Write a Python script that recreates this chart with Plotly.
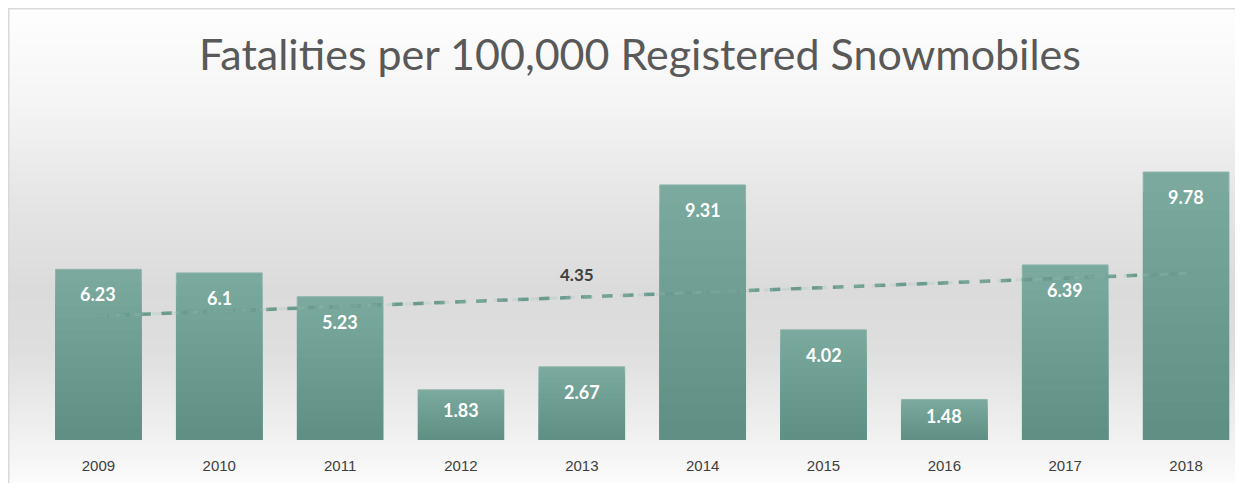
import numpy as np
import plotly.graph_objects as go

# ---- data ----
years = ["2009", "2010", "2011", "2012", "2013", "2014", "2015", "2016", "2017", "2018"]
rates = [6.23, 6.1, 5.23, 1.83, 2.67, 9.31, 4.02, 1.48, 6.39, 9.78]
extra_label_text = "4.35"
extra_label_year = "2013"
title_text = "Fatalities per 100,000 Registered Snowmobiles"

# ---- layout geometry (pixels, figure coordinates; page adds 8px body margin) ----
W, H = 1227, 475
ML, MR, MT, MB = 30, 0, 92, 43
plot_w = W - ML - MR
plot_h = H - MT - MB
YMAX = 12.41


def px_to_paper_x(px):
    return (px - ML) / plot_w


def px_to_paper_y(py):
    return (H - MB - py) / plot_h


# background vertical gradient built from horizontal strips (figure px)
stops = [(0, 254), (92, 245), (192, 229), (282, 219), (342, 222), (412, 237), (462, 248), (475, 252)]
shapes = []
step = 4
for y0 in range(0, H, step):
    y1 = min(y0 + step, H)
    ym = (y0 + y1) / 2
    g = int(round(np.interp(ym, [s[0] for s in stops], [s[1] for s in stops])))
    shapes.append(dict(
        type="rect", xref="paper", yref="paper", layer="below",
        x0=px_to_paper_x(0), x1=px_to_paper_x(W),
        y0=px_to_paper_y(y1 + 0.5), y1=px_to_paper_y(y0),
        fillcolor=f"rgb({g},{g},{g})", line=dict(width=0),
    ))
# border (left and top lines)
shapes.append(dict(type="line", xref="paper", yref="paper",
                   x0=px_to_paper_x(0.75), x1=px_to_paper_x(0.75),
                   y0=px_to_paper_y(H), y1=px_to_paper_y(0.5),
                   line=dict(color="#d9d9d9", width=1.5)))
shapes.append(dict(type="line", xref="paper", yref="paper",
                   x0=px_to_paper_x(0), x1=px_to_paper_x(W),
                   y0=px_to_paper_y(0.75), y1=px_to_paper_y(0.75),
                   line=dict(color="#d9d9d9", width=1.5)))

fig = go.Figure()

# linear trend line derived from the data (behind the bars)
xi = np.arange(len(rates))
slope, intercept = np.polyfit(xi, rates, 1)
trend = [float(slope * i + intercept) for i in xi]
fig.add_trace(go.Scatter(
    x=years, y=trend, mode="lines",
    line=dict(color="#6a9b8e", width=3.5, dash="dash"),
    hoverinfo="skip", showlegend=False,
))

# bars with a vertical light-to-dark gradient, drawn as overlaid fractions
top_rgb = np.array([123, 169, 157])
bot_rgb = np.array([94, 143, 130])
N = 14
for k in range(N):
    f = 1 - k / N
    c = bot_rgb + (top_rgb - bot_rgb) * f
    fig.add_trace(go.Bar(
        x=years, y=[v * f for v in rates], width=0.71,
        marker=dict(color=f"rgb({int(c[0])},{int(c[1])},{int(c[2])})",
                    line=dict(color="#8db5aa" if k == 0 else "rgba(0,0,0,0)", width=1 if k == 0 else 0)),
        hoverinfo="x+y" if k == 0 else "skip", showlegend=False,
    ))

# faint copy of the trend visible through the bars
fig.add_trace(go.Scatter(
    x=years, y=trend, mode="lines",
    line=dict(color="#9fc2b8", width=3, dash="dash"),
    opacity=0.25, hoverinfo="skip", showlegend=False,
))

px_per_unit = plot_h / YMAX
annotations = []
for i, (yr, v) in enumerate(zip(years, rates)):
    shift = -min(25.0, v * px_per_unit * 0.4)
    annotations.append(dict(
        x=i, y=v, xref="x", yref="y", text=f"<b>{v:g}</b>", showarrow=False,
        yanchor="middle", yshift=float(shift),
        font=dict(family="Lato", size=18, color="white"),
    ))
k = years.index(extra_label_year)
annotations.append(dict(
    x=k, y=trend[k], xref="x", yref="y",
    text=f"<b>{extra_label_text}</b>", showarrow=False, yanchor="middle", xshift=-5, yshift=23,
    font=dict(family="Lato", size=17, color="#404040"),
))

fig.update_layout(
    width=W, height=H,
    margin=dict(l=ML, r=MR, t=MT, b=MB, pad=0),
    paper_bgcolor="white",
    plot_bgcolor="rgba(0,0,0,0)",
    barmode="overlay",
    title=dict(text=title_text, x=(640 - 8) / W, xanchor="center", y=1 - 47 / H, yanchor="middle",
               font=dict(family="Lato", size=43, color="#595959")),
    xaxis=dict(type="category", range=[-0.5, 9.405], showgrid=False, zeroline=False, showline=False,
               ticks="outside", ticklen=12, tickcolor="rgba(0,0,0,0)",
               tickfont=dict(family="Liberation Sans", size=15, color="#404040")),
    yaxis=dict(range=[0, YMAX], visible=False, showgrid=False, zeroline=False),
    shapes=shapes,
    annotations=annotations,
)

fig.write_html("out.html")
